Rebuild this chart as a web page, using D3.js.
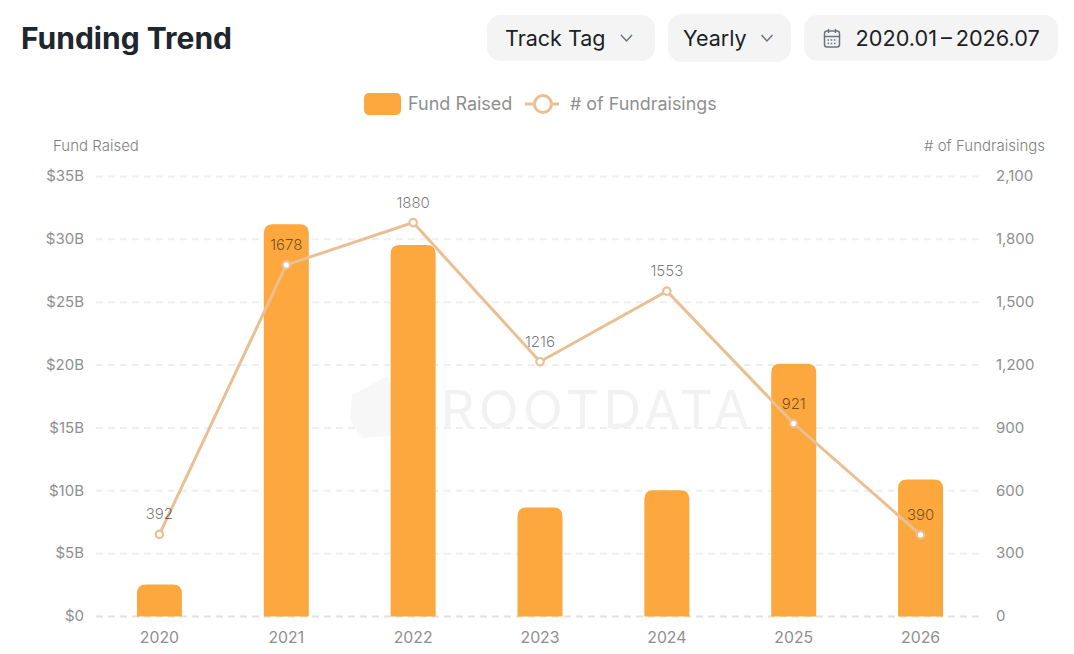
<!DOCTYPE html>
<html>
<head>
<meta charset="utf-8">
<script src="https://cdn.jsdelivr.net/npm/d3@7"></script>
<style>
  html, body { margin: 0; padding: 0; background: #fff; }
  svg { display: block; font-family: Inter, "Noto Sans", sans-serif; }
</style>
</head>
<body>
<div id="chart"></div>
<script>
// values
let years = ["2020", "2021", "2022", "2023", "2024", "2025", "2026"];
let fundRaised = [2.55, 31.2, 29.55, 8.67, 10.05, 20.1, 10.9];
let fundraisings = [392, 1678, 1880, 1216, 1553, 921, 390];
let leftTicks = [0, 5, 10, 15, 20, 25, 30, 35];
let rightTicks = [0, 300, 600, 900, 1200, 1500, 1800, 2100];

let w = 1074, h = 654;
let plotLeft = 96, plotRight = 984, plotTop = 176.5, plotBottom = 616.5;
let barColor = "#fca83e", lineColor = "#e9bf94", gridColor = "#efefef";
let tickColor = "#8f8f8f", darkText = "#1c1f24";

let viz = d3.select("#chart").append("svg").attr("width", w).attr("height", h);

let xScale = d3.scaleBand().domain(years).range([plotLeft, plotRight]);
let yLeft = d3.scaleLinear().domain([0, 35]).range([plotBottom, plotTop]);
let yRight = d3.scaleLinear().domain([0, 2100]).range([plotBottom, plotTop]);

// header
viz.append("text").text("Funding Trend")
  .attr("x", 21).attr("y", 49)
  .attr("font-size", 30).attr("font-weight", 700).attr("fill", "#20262d");

function pill(x, y, width, height) {
  viz.append("rect")
    .attr("x", x).attr("y", y).attr("width", width).attr("height", height)
    .attr("rx", 14).attr("fill", "#f4f4f5");
}
function chevron(x, y) {
  viz.append("path")
    .attr("d", "M" + (x - 5.5) + "," + (y - 3) + "L" + x + "," + (y + 3) + "L" + (x + 5.5) + "," + (y - 3))
    .attr("fill", "none").attr("stroke", "#6b7280").attr("stroke-width", 1.5);
}
function pillText(t, x) {
  return viz.append("text").text(t)
    .attr("x", x).attr("y", 45.5)
    .attr("font-size", 21.5).attr("font-weight", 400).attr("fill", darkText);
}
pill(487, 15, 168, 46);
pillText("Track Tag", 505);
chevron(626.5, 38);
pill(668, 14, 123, 48);
pillText("Yearly", 683);
chevron(767, 38);
pill(804, 15, 254, 46);
pillText("2020.01\u2009\u2013\u20092026.07", 855.5).attr("font-size", 21.7);

// calendar icon
let cal = viz.append("g").attr("fill", "none").attr("stroke", "#6b7280").attr("stroke-width", 1.5);
cal.append("rect").attr("x", 824.5).attr("y", 31).attr("width", 15).attr("height", 16).attr("rx", 2.5);
cal.append("path").attr("d", "M824.5,36.5H839.5M828.5,29V33M835.5,29V33");
cal.append("path").attr("stroke-dasharray", "1.6 1.6").attr("d", "M827.5,40H837M827.5,43.5H837");

// legend
viz.append("rect")
  .attr("x", 364).attr("y", 93).attr("width", 37).attr("height", 22)
  .attr("rx", 5).attr("fill", barColor);
viz.append("text").text("Fund Raised")
  .attr("x", 408).attr("y", 110)
  .attr("font-size", 18).attr("fill", tickColor);
viz.append("line")
  .attr("x1", 525).attr("x2", 559).attr("y1", 104).attr("y2", 104)
  .attr("stroke", lineColor).attr("stroke-width", 3);
viz.append("circle")
  .attr("cx", 543).attr("cy", 104).attr("r", 8.5)
  .attr("fill", "#fff").attr("stroke", lineColor).attr("stroke-width", 3);
viz.append("text").text("# of Fundraisings")
  .attr("x", 570).attr("y", 110)
  .attr("font-size", 17.9).attr("fill", tickColor);

// axis titles
viz.append("text").text("Fund Raised")
  .attr("x", 53).attr("y", 150.5)
  .attr("font-size", 15).attr("font-weight", 300).attr("fill", "#7f7f7f");
viz.append("text").text("# of Fundraisings")
  .attr("x", 1045).attr("y", 150.5).attr("text-anchor", "end")
  .attr("font-size", 15).attr("font-weight", 300).attr("fill", "#7f7f7f");

// gridlines
viz.append("g").selectAll("line").data(leftTicks).enter().append("line")
  .attr("x1", plotLeft).attr("x2", plotRight)
  .attr("y1", function(d){ return yLeft(d) }).attr("y2", function(d){ return yLeft(d) })
  .attr("stroke", function(d){ return d == 0 ? "#e2e2e2" : gridColor })
  .attr("stroke-width", 2).attr("stroke-dasharray", "7 5");

// watermark
let mark = viz.append("g");
mark.append("path")
  .attr("d", "M352,395L388,376L396,400L392,436L362,438L350,420Z")
  .attr("fill", "#f7f7f7");
mark.append("text").text("ROOTDATA")
  .attr("x", 441).attr("y", 428)
  .attr("font-size", 52).attr("font-weight", 400).attr("letter-spacing", 4.4)
  .attr("fill", "#f2f2f2");

// axes
let leftAxis = d3.axisLeft(yLeft).tickValues(leftTicks)
  .tickFormat(function(d){ return d == 0 ? "$0" : "$" + d + "B" }).tickSize(0).tickPadding(0);
let rightAxis = d3.axisRight(yRight).tickValues(rightTicks)
  .tickFormat(d3.format(",")).tickSize(0).tickPadding(0);
let bottomAxis = d3.axisBottom(xScale).tickSize(0).tickPadding(0);

function styleAxis(g) {
  g.select(".domain").remove();
  g.selectAll("text")
    .attr("font-family", "Inter, sans-serif")
    .attr("font-size", 15).attr("fill", tickColor);
}
viz.append("g").attr("transform", "translate(84,-0.5)").call(leftAxis).call(styleAxis);
viz.append("g").attr("transform", "translate(996,-0.5)").call(rightAxis).call(styleAxis);
viz.append("g").attr("transform", "translate(0,632)").call(bottomAxis).call(styleAxis)
  .selectAll("text").attr("font-size", 15.8);

// bars, rounded on top only
let barWidth = 45, r = 9;
viz.append("g").selectAll("path").data(years).enter().append("path")
  .attr("fill", barColor)
  .attr("d", function(d, i){
    let x0 = xScale(d) + xScale.bandwidth() / 2 - barWidth / 2;
    let x1 = x0 + barWidth;
    let y0 = yLeft(fundRaised[i]);
    return "M" + x0 + "," + plotBottom + "V" + (y0 + r) + "Q" + x0 + "," + y0 + " " + (x0 + r) + "," + y0 +
      "H" + (x1 - r) + "Q" + x1 + "," + y0 + " " + x1 + "," + (y0 + r) + "V" + plotBottom + "Z";
  });

// line
function xCenter(i) { return xScale(years[i]) + xScale.bandwidth() / 2 }
let line = d3.line()
  .x(function(d, i){ return xCenter(i) })
  .y(function(d){ return yRight(d) });
viz.append("path").datum(fundraisings)
  .attr("d", line).attr("fill", "none")
  .attr("stroke", lineColor).attr("stroke-width", 3);

viz.append("g").selectAll("circle").data(fundraisings).enter().append("circle")
  .attr("cx", function(d, i){ return xCenter(i) })
  .attr("cy", function(d){ return yRight(d) })
  .attr("r", 3.7).attr("fill", "#fff")
  .attr("stroke", lineColor).attr("stroke-width", 2.2);

// black with opacity so the labels go brown on top of the bars
viz.append("g").selectAll("text").data(fundraisings).enter().append("text")
  .text(function(d){ return d })
  .attr("x", function(d, i){ return xCenter(i) })
  .attr("y", function(d){ return yRight(d) - 15 })
  .attr("text-anchor", "middle")
  .attr("font-size", 15).attr("font-weight", 300).attr("fill", "#000").attr("fill-opacity", 0.55);
</script>
</body>
</html>
